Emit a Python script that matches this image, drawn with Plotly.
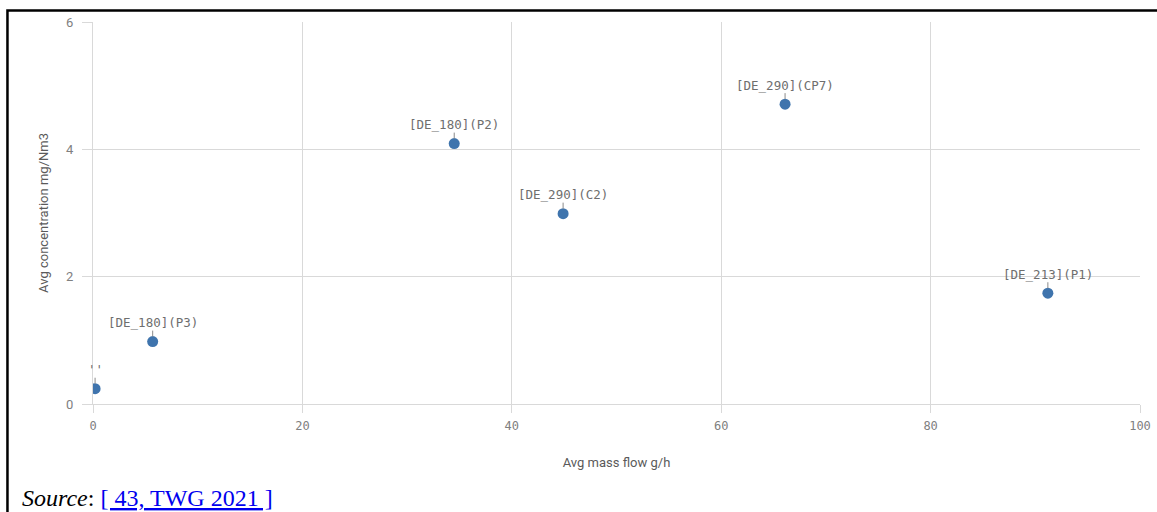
import plotly.graph_objects as go

# ---- data ----
mass_flow = [0.2, 5.7, 34.5, 44.9, 66.1, 91.2]          # Avg mass flow g/h
concentration = [0.24, 0.98, 4.09, 2.99, 4.71, 1.74]     # Avg concentration mg/Nm3
labels = ["''", "[DE_180](P3)", "[DE_180](P2)", "[DE_290](C2)", "[DE_290](CP7)", "[DE_213](P1)"]
x_ticks = [0, 20, 40, 60, 80, 100]
y_ticks = [0, 2, 4, 6]

MARKER = "#3f74ad"
GRID = "#d9d9d9"
TICKFONT = "#808080"
TITLEFONT = "#5a5a5a"

fig = go.Figure()
fig.add_trace(go.Scatter(
    x=mass_flow, y=concentration, mode="markers",
    marker=dict(size=11, color=MARKER),
    hoverinfo="skip", showlegend=False,
))

for xv, yv, lab in zip(mass_flow, concentration, labels):
    fig.add_annotation(
        x=xv, y=yv, xref="x", yref="y", text=lab,
        showarrow=True, ax=0, ay=-19, arrowhead=0, arrowwidth=1,
        arrowcolor="#8a8a8a", standoff=5, borderpad=0,
        font=dict(family="DejaVu Sans Mono", size=12.5, color="#6e6e6e"),
    )

# source line
fig.add_annotation(
    xref="paper", yref="paper", x=-0.0697, y=-0.285,
    xanchor="left", yanchor="bottom", showarrow=False,
    text="<i>Source</i>: <span style='color:#0000ee'><u>[ 43, TWG 2021 ]</u></span>",
    font=dict(family="Liberation Serif", size=24, color="black"),
)

# outer frame (top and left border)
fig.add_shape(type="path", xref="paper", yref="paper",
              path="M -0.0817,-0.35 L -0.0817,1.0301 L 1.03,1.0301",
              line=dict(color="black", width=2.5))

fig.update_layout(
    width=1157, height=512,
    margin=dict(l=93, r=17, t=22, b=108, autoexpand=False),
    paper_bgcolor="white", plot_bgcolor="white",
    xaxis=dict(
        range=[0, 100], tickvals=x_ticks, ticktext=[str(v) for v in x_ticks],
        automargin=False,
        showgrid=True, gridcolor=GRID, gridwidth=1, zeroline=False,
        showline=True, linecolor=GRID, linewidth=1,
        ticks="outside", ticklen=8, tickcolor=GRID, ticklabelstandoff=3,
        tickfont=dict(family="DejaVu Sans Mono", size=12, color=TICKFONT),
        title=dict(text="Avg mass flow g/h", standoff=25,
                   font=dict(family="Roboto", size=13, color=TITLEFONT)),
    ),
    yaxis=dict(
        range=[0, 6], tickvals=y_ticks, ticktext=[str(v) for v in y_ticks],
        automargin=False,
        showgrid=True, gridcolor=GRID, gridwidth=1, zeroline=False,
        showline=True, linecolor=GRID, linewidth=1, mirror=False,
        ticks="outside", ticklen=10, tickcolor=GRID, ticklabelstandoff=6,
        tickfont=dict(family="Roboto", size=13, color=TICKFONT),
        title=dict(text="Avg concentration mg/Nm3", standoff=14,
                   font=dict(family="Roboto", size=13, color=TITLEFONT)),
    ),
)

fig.write_html("out.html", config={"displayModeBar": False},
               post_script="document.body.style.margin='0';document.body.style.padding='0';")
